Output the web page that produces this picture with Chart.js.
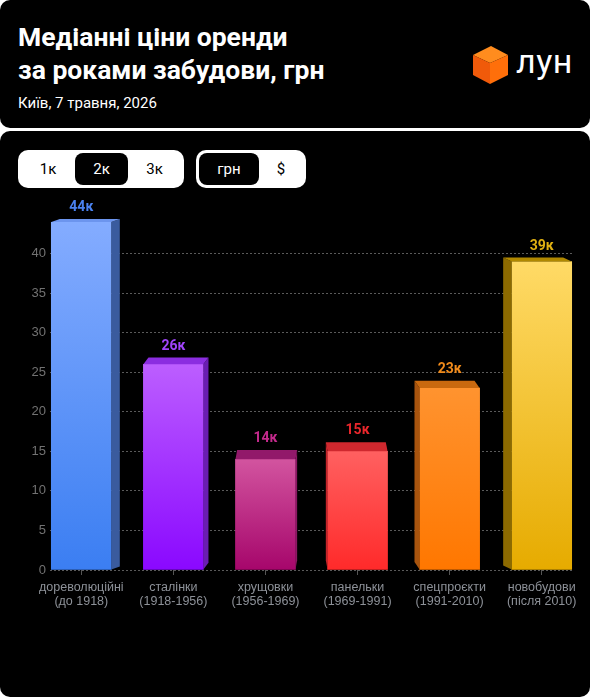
<!DOCTYPE html>
<html>
<head>
<meta charset="utf-8">
<script src="https://cdn.jsdelivr.net/npm/chart.js@4"></script>
<style>
  body { margin: 0; background: #fff; width: 590px; height: 700px; position: relative; overflow: hidden; font-family: Roboto, "Noto Sans", sans-serif; }
  .card { position: absolute; left: 0; width: 590px; background: #000; border-radius: 10px; }
  .head { top: 0; height: 128px; }
  .body { top: 131px; height: 566px; }
  .title { position: absolute; left: 18px; top: 20px; color: #fff; font-weight: 700; font-size: 26.5px; line-height: 33px; }
  .sub { position: absolute; left: 18px; top: 95px; color: #fff; font-size: 15px; line-height: 17px; }
  .logo { position: absolute; left: 470px; top: 44px; }
  .logotext { position: absolute; left: 516px; top: 41px; color: #fff; font-size: 34px; line-height: 40px; letter-spacing: 0.5px; }
  .grp { position: absolute; top: 150px; height: 38px; background: #fff; border-radius: 10px; }
  .btn { position: absolute; top: 3px; height: 32px; line-height: 32px; text-align: center; font-size: 15px; color: #000; border-radius: 8px; }
  .btn.on { background: #000; color: #fff; }
  canvas { position: absolute; left: 0; top: 195px; }
</style>
</head>
<body>
<div class="card head"></div>
<div class="card body"></div>
<div class="title">Медіанні ціни оренди<br>за роками забудови, грн</div>
<div class="sub">Київ, 7 травня, 2026</div>
<svg class="logo" width="42" height="42" viewBox="0 0 42 42">
  <polygon points="3,11 21,2 38,11 20,19" fill="#ff8c1e"/>
  <polygon points="3,11 20,19 20,40 3,31" fill="#f05a0a"/>
  <polygon points="20,19 38,11 38,31 20,40" fill="#ff6f0a"/>
</svg>
<div class="logotext">лун</div>
<div class="grp" style="left:18px;width:166px">
  <div class="btn" style="left:3px;width:54px">1к</div>
  <div class="btn on" style="left:57px;width:53px">2к</div>
  <div class="btn" style="left:110px;width:53px">3к</div>
</div>
<div class="grp" style="left:196px;width:110px">
  <div class="btn on" style="left:3px;width:60px">грн</div>
  <div class="btn" style="left:63px;width:44px">$</div>
</div>
<canvas id="rentChart" width="590" height="420"></canvas>
<script>
// категорії та значення (тис. грн)
const categories = ["дореволюційні", "сталінки", "хрущовки", "панельки", "спецпроєкти", "новобудови"]
const periods = ["(до 1918)", "(1918-1956)", "(1956-1969)", "(1969-1991)", "(1991-2010)", "(після 2010)"]
const values = [44, 26, 14, 15, 23, 39]
const valueLabels = ["44к", "26к", "14к", "15к", "23к", "39к"]
const yTicks = [0, 5, 10, 15, 20, 25, 30, 35, 40]

// кольори: верх градієнта, низ, бічна грань, верхня грань, підпис
const topColors = ["#84acff", "#bc5eff", "#d2549f", "#ff6060", "#ff932f", "#ffda66"]
const bottomColors = ["#3b7ef2", "#8a08ff", "#a6066b", "#ff2a2a", "#ff7700", "#e6ab00"]
const sideColors = ["#3a5b9e", "#6a1db2", "#8c1864", "#c4242a", "#a8540e", "#8c6a00"]
const capColors = ["#6c95ee", "#8b2de0", "#92196a", "#cf282e", "#c9690f", "#b08800"]
const labelColors = ["#4a82f0", "#a044fa", "#c42a8c", "#e8262b", "#f08a1a", "#e0b012"]

const eyeX = 311, eyeY = -86   // точка зору для 3D
const kx = 0.037, ky = 0.0265

const depthPlugin = {
    id: "depth",
    afterDatasetsDraw(chart){
        const ctx = chart.ctx
        const meta = chart.getDatasetMeta(0)
        meta.data.forEach((bar, i) => {
            const { x, y, base, width } = bar.getProps(["x", "y", "base", "width"], true)
            const xl = x - width / 2, xr = x + width / 2
            const dx = (eyeX - x) * kx
            const dy = (y - eyeY) * ky
            ctx.save()
            // бічна грань
            const ex = dx > 0 ? xr : xl
            ctx.fillStyle = sideColors[i]
            ctx.beginPath()
            ctx.moveTo(ex, y)
            ctx.lineTo(ex + dx, y - dy)
            ctx.lineTo(ex + dx, base - dy)
            ctx.lineTo(ex, base)
            ctx.closePath()
            ctx.fill()
            // верхня грань
            ctx.fillStyle = capColors[i]
            ctx.beginPath()
            ctx.moveTo(xl, y)
            ctx.lineTo(xr, y)
            ctx.lineTo(xr + dx, y - dy)
            ctx.lineTo(xl + dx, y - dy)
            ctx.closePath()
            ctx.fill()
            // підпис
            ctx.fillStyle = labelColors[i]
            ctx.font = "bold 14px Roboto"
            ctx.textAlign = "center"
            ctx.textBaseline = "alphabetic"
            ctx.fillText(valueLabels[i], x, y - dy - 8)
            ctx.restore()
        })
    }
}

new Chart(document.getElementById("rentChart"), {
    type: "bar",
    data: {
        datasets: [{
            data: values.map((v, i) => ({ x: i, y: v })),
            backgroundColor: (c) => {
                const chart = c.chart
                if (!chart.chartArea || c.dataIndex === undefined) return topColors[0]
                const yPix = chart.scales.y.getPixelForValue(values[c.dataIndex])
                const g = chart.ctx.createLinearGradient(0, yPix, 0, chart.scales.y.getPixelForValue(0))
                g.addColorStop(0, topColors[c.dataIndex])
                g.addColorStop(1, bottomColors[c.dataIndex])
                return g
            },
            borderWidth: 0,
            barThickness: 60,
        }]
    },
    options: {
        responsive: false,
        animation: false,
        layout: { padding: { top: 27, right: 17, left: 0, bottom: 0 } },
        plugins: {
            legend: { display: false },
            tooltip: { enabled: false }
        },
        scales: {
            x: {
                type: "linear",
                offset: false,
                min: -0.34,
                max: 5.34,
                afterBuildTicks: (s) => { s.ticks = categories.map((c, i) => ({ value: i })) },
                afterFit: (s) => { s.height = 45 },
                ticks: {
                    autoSkip: false,
                    maxRotation: 0,
                    padding: 5,
                    color: "#8d9198",
                    font: { family: "Liberation Sans", size: 12.5, lineHeight: 1.15 },
                    callback: (v) => [categories[v], periods[v]]
                },
                grid: { offset: false, drawOnChartArea: false, color: "#555", tickLength: 5 },
                border: { display: false }
            },
            y: {
                min: 0,
                max: 44,
                afterBuildTicks: (s) => { s.ticks = yTicks.map(v => ({ value: v })) },
                afterFit: (s) => { s.width = 50 },
                ticks: {
                    color: "#727272",
                    padding: 4,
                    font: { family: "Liberation Sans", size: 13 }
                },
                grid: { color: "#5a5a5a", drawTicks: false },
                border: { display: false, dash: [2, 2] }
            }
        }
    },
    plugins: [depthPlugin]
})
</script>
</body>
</html>
